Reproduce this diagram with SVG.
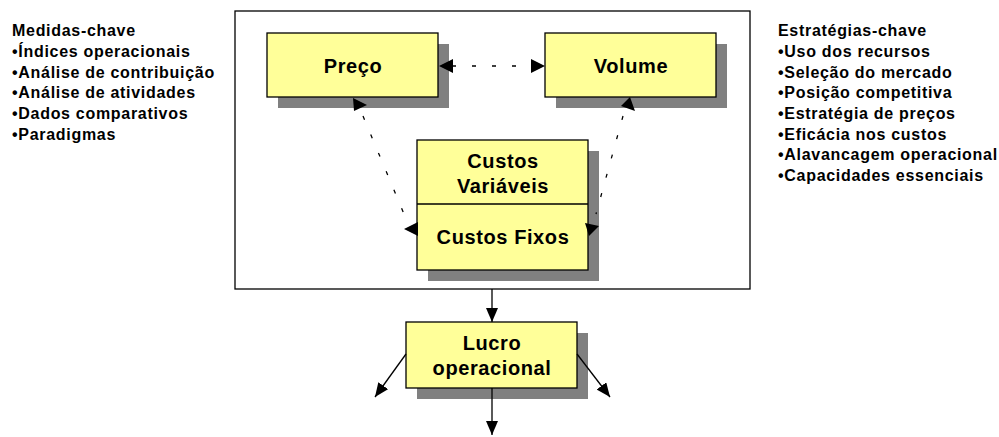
<svg xmlns="http://www.w3.org/2000/svg" width="999" height="437" viewBox="0 0 999 437">
<style>
.lst{font-family:"Liberation Sans",Arial,sans-serif;font-weight:bold;font-size:16px;letter-spacing:0.7px;fill:#000}
.lbl{font-family:"Liberation Sans",Arial,sans-serif;font-weight:bold;font-size:20px;letter-spacing:0.6px;fill:#000;text-anchor:middle}
.box{fill:#FFFF99;stroke:#000;stroke-width:1.3}
.shd{fill:#808080}
.ln{stroke:#000;stroke-width:1.3;fill:none}
.dot{stroke:#000;stroke-width:1.3;fill:none;stroke-dasharray:4 16}
.ah{fill:#000}
</style>
<defs>
<marker id="arr" viewBox="0 0 14 12" refX="14" refY="6" markerWidth="14" markerHeight="12" markerUnits="userSpaceOnUse" orient="auto">
<path d="M0,0 L14,6 L0,12 Z" fill="#000"/>
</marker>
</defs>
<rect id="frame" x="235" y="11" width="515" height="278" fill="#fff" stroke="#000" stroke-width="1.3"/>
<g id="medidas">
<text class="lst" x="12" y="36">Medidas-chave</text>
<text class="lst" x="12" y="57">•Índices operacionais</text>
<text class="lst" x="12" y="78">•Análise de contribuição</text>
<text class="lst" x="12" y="98">•Análise de atividades</text>
<text class="lst" x="12" y="119">•Dados comparativos</text>
<text class="lst" x="12" y="140">•Paradigmas</text>
</g>
<g id="estrategias">
<text class="lst" x="778" y="36">Estratégias-chave</text>
<text class="lst" x="778" y="57">•Uso dos recursos</text>
<text class="lst" x="778" y="78">•Seleção do mercado</text>
<text class="lst" x="778" y="98">•Posição competitiva</text>
<text class="lst" x="778" y="119">•Estratégia de preços</text>
<text class="lst" x="778" y="140">•Eficácia nos custos</text>
<text class="lst" x="778" y="160">•Alavancagem operacional</text>
<text class="lst" x="778" y="181">•Capacidades essenciais</text>
</g>
<g id="preco">
<rect class="shd" x="278" y="44" width="171" height="64"/>
<rect class="box" x="267" y="33" width="171" height="64"/>
<text class="lbl" x="353" y="73">Preço</text>
</g>
<g id="volume">
<rect class="shd" x="556" y="44" width="171" height="64"/>
<rect class="box" x="545" y="33" width="171" height="64"/>
<text class="lbl" x="631" y="73">Volume</text>
</g>
<g id="custos">
<rect class="shd" x="428" y="151" width="171" height="130"/>
<rect class="box" x="417" y="140" width="171" height="130"/>
<line class="ln" x1="417" y1="204" x2="588" y2="204"/>
<text class="lbl" x="503" y="168">Custos</text>
<text class="lbl" x="503" y="193">Variáveis</text>
<text class="lbl" x="503" y="244">Custos Fixos</text>
</g>
<g id="lucro">
<rect class="shd" x="417" y="333" width="171" height="66"/>
<rect class="box" x="406" y="322" width="171" height="66"/>
<text class="lbl" x="492" y="350">Lucro</text>
<text class="lbl" x="492" y="375">operacional</text>
</g>
<g id="connectors">
<line class="dot" x1="452" y1="66" x2="532" y2="66"/>
<path class="ah" d="M439,66 L453,59 L453,73 Z"/>
<path class="ah" d="M545,66 L531,59 L531,73 Z"/>
<line class="dot" x1="363" y1="116" x2="404" y2="214"/>
<path class="ah" d="M353,98 L367,105 L354,111 Z"/>
<path class="ah" d="M404,229 L418,222 L418,236 Z"/>
<line class="dot" x1="623" y1="116" x2="596" y2="214"/>
<path class="ah" d="M621,106 L630,97 L635,111 Z"/>
<path class="ah" d="M585,223 L599,226 L589,236 Z"/>
<line class="ln" x1="492" y1="289" x2="492" y2="322" marker-end="url(#arr)"/>
<line class="ln" x1="492" y1="388" x2="492" y2="435" marker-end="url(#arr)"/>
<line class="ln" x1="406" y1="354" x2="375" y2="397" marker-end="url(#arr)"/>
<line class="ln" x1="577" y1="354" x2="610" y2="397" marker-end="url(#arr)"/>
</g>
</svg>
